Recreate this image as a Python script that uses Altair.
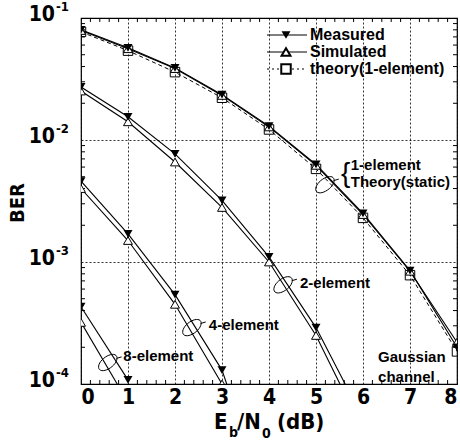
import altair as alt
import pandas as pd

# Eb/N0 grid (dB)
ebn0 = [0, 1, 2, 3, 4, 5, 6, 7, 8]

# 1-element receiver in a Gaussian channel
meas_1 = [0.080, 0.057, 0.039, 0.0235, 0.0130, 0.0063, 0.0025, 0.00085, 0.00020]
sim_1 = [0.079, 0.056, 0.0385, 0.0232, 0.0128, 0.0062, 0.00245, 0.00084, 0.00022]
theory_1 = [0.077, 0.054, 0.036, 0.0222, 0.0122, 0.0058, 0.0023, 0.00078, 0.000185]

# 2-, 4- and 8-element diversity
meas_2 = [0.0272, 0.0155, 0.0077, 0.0032, 0.0011, 0.00029]
sim_2 = [0.0252, 0.0141, 0.0066, 0.0028, 0.0010, 0.00025]
meas_4 = [0.0046, 0.0017, 0.00054, 0.00013]
sim_4 = [0.0040, 0.0015, 0.00045, 0.00010]
meas_8 = [0.00043, 0.000108]
sim_8 = [0.00032]

# Eb/N0 where a curve runs out through BER = 1e-4
tails = {"meas_2": 5.62, "sim_2": 5.51, "meas_4": 3.1, "sim_8": 0.77}

y_ticks = [1e-1, 1e-2, 1e-3, 1e-4]
y_exps = ["-1", "-2", "-3", "-4"]
x_minor = [i / 5 for i in range(1, 40) if i % 5]
y_minor = [m * 10.0 ** e for e in (-4, -3, -2) for m in range(2, 10)]

series = [
    ("meas_1", "meas", meas_1), ("sim_1", "sim", sim_1), ("theory_1", "theory", theory_1),
    ("meas_2", "meas", meas_2), ("sim_2", "sim", sim_2),
    ("meas_4", "meas", meas_4), ("sim_4", "sim", sim_4),
    ("meas_8", "meas", meas_8), ("sim_8", "sim", sim_8),
]
rows = []
for name, kind, vals in series:
    for x, b in zip(ebn0, vals):
        rows.append(dict(x=x, ber=b, curve=name, kind=kind, marker=True))
    if name in tails:
        rows.append(dict(x=tails[name], ber=1e-4, curve=name, kind=kind, marker=False))
df = pd.DataFrame(rows)

W, H = 376, 366
NARROW = "Liberation Sans Narrow, DejaVu Sans Condensed, sans-serif"
TEXT = "Liberation Sans, Arial, sans-serif"

xs = alt.Scale(domain=[0, 8], nice=False)
ys = alt.Scale(type="log", domain=[1e-4, 1e-1], nice=False)
x_axis = alt.Axis(values=ebn0, grid=True, gridColor="black", gridDash=[2, 2], gridWidth=0.8,
                  ticks=False, domain=False, title=None, labelFont=NARROW, labelFontSize=21,
                  labelFontWeight="bold", labelColor="black", labelPadding=2, format="d")
y_axis = alt.Axis(values=y_ticks, grid=True, gridColor="black", gridDash=[2, 2], gridWidth=0.8,
                  ticks=False, domain=False, labels=False, title=None)
X = alt.X("x:Q", scale=xs, axis=x_axis)
Y = alt.Y("ber:Q", scale=ys, axis=y_axis)

base = alt.Chart(df)
solid = base.mark_line(color="black", strokeWidth=1.1, clip=True).encode(
    X, Y, detail="curve:N").transform_filter("datum.kind != 'theory'")
dashed = base.mark_line(color="black", strokeWidth=1, strokeDash=[4, 3], clip=True).encode(
    X, Y, detail="curve:N").transform_filter("datum.kind == 'theory'")
pts = base.transform_filter("datum.marker")
sim_pts = pts.transform_filter("datum.kind == 'sim'").mark_point(
    shape="triangle-up", filled=True, fill="white", stroke="black", strokeWidth=1,
    size=80, opacity=1, clip=True).encode(X, Y)
theo_pts = pts.transform_filter("datum.kind == 'theory'").mark_point(
    shape="square", filled=False, stroke="black", strokeWidth=1, size=90,
    opacity=1, clip=True).encode(X, Y)
meas_pts = pts.transform_filter("datum.kind == 'meas'").mark_point(
    shape="triangle-down", filled=True, color="black", size=80, opacity=1, clip=True).encode(X, Y)

# inward minor ticks on all four sides
xm = alt.Chart(pd.DataFrame({"x": x_minor}))
ym = alt.Chart(pd.DataFrame({"ber": y_minor}))
tick_kw = dict(color="black", strokeWidth=1)
ticks = alt.layer(
    xm.mark_rule(**tick_kw).encode(x=alt.X("x:Q", scale=xs), y=alt.value(H), y2=alt.value(H - 4)),
    xm.mark_rule(**tick_kw).encode(x=alt.X("x:Q", scale=xs), y=alt.value(0), y2=alt.value(4)),
    ym.mark_rule(**tick_kw).encode(y=alt.Y("ber:Q", scale=ys), x=alt.value(0), x2=alt.value(4)),
    ym.mark_rule(**tick_kw).encode(y=alt.Y("ber:Q", scale=ys), x=alt.value(W), x2=alt.value(W - 4)),
)

# y tick labels as 10 with a raised exponent
yl = alt.Chart(pd.DataFrame({"ber": y_ticks, "exp": y_exps}))
ylab = alt.layer(
    yl.mark_text(align="right", baseline="middle", font=NARROW, fontSize=21,
                 fontWeight="bold", dy=-3, color="black").encode(
        y=alt.Y("ber:Q", scale=ys), x=alt.value(-26), text=alt.value("10")),
    yl.mark_text(align="left", baseline="middle", font=NARROW, fontSize=13,
                 fontWeight="bold", dy=-11, color="black").encode(
        y=alt.Y("ber:Q", scale=ys), x=alt.value(-25), text="exp:N"),
)

# axis titles
one = alt.Chart(pd.DataFrame({"a": [0]}))
def label(txt, x, y, size, **kw):
    return one.mark_text(font=NARROW, fontSize=size, fontWeight="bold", color="black",
                         **kw).encode(x=alt.value(x), y=alt.value(y), text=alt.value(txt))

titles = alt.layer(
    label("BER", -63, 185, 20, angle=270, align="center", baseline="middle"),
    label("E", 133, H + 45, 22, align="left", baseline="alphabetic"),
    label("b", 148, H + 53, 14, align="left", baseline="alphabetic"),
    label("/N", 156, H + 45, 22, align="left", baseline="alphabetic"),
    label("0", 181, H + 54, 14, align="left", baseline="alphabetic"),
    label("(dB)", 196, H + 45, 22, align="left", baseline="alphabetic"),
)

# legend
leg_y = [17, 34, 51]
leg_lab = ["Measured", "Simulated", "theory(1-element)"]
legend = []
for i, (yy, txt) in enumerate(zip(leg_y, leg_lab)):
    dash = [2, 3] if i == 2 else [1, 0]
    legend.append(one.mark_rule(color="black", strokeWidth=1, strokeDash=dash).encode(
        x=alt.value(186), x2=alt.value(226), y=alt.value(yy)))
    if i == 0:
        legend.append(one.mark_point(shape="triangle-down", filled=True, color="black",
                                     size=80, opacity=1).encode(x=alt.value(205), y=alt.value(yy)))
    elif i == 1:
        legend.append(one.mark_point(shape="triangle-up", filled=True, fill="white", stroke="black",
                                     size=80, opacity=1).encode(x=alt.value(205), y=alt.value(yy)))
    else:
        legend.append(one.mark_point(shape="square", filled=True, fill="white", stroke="black",
                                     size=90, opacity=1).encode(x=alt.value(205), y=alt.value(yy)))
    legend.append(one.mark_text(align="left", baseline="middle", font=TEXT, fontSize=16,
                                fontWeight="bold", color="black").encode(
        x=alt.value(229), y=alt.value(yy), text=alt.value(txt)))

# curve-group annotations: a small loop around each pair of curves and its name
LOOP = ("M0.866,-0.6 C1.004,-0.3 0.728,0.2 0.25,0.52 C-0.228,0.85 -0.728,0.89 -0.866,0.6 "
        "C-1.004,0.3 -0.728,-0.2 -0.25,-0.52 C0.228,-0.85 0.728,-0.89 0.866,-0.6 Z "
        "M0.85,-0.4 L1.35,-0.55")
loops = alt.Chart(pd.DataFrame({"x": [5.19, 4.30, 2.36, 0.57],
                                "ber": [4.3e-3, 6.5e-4, 2.9e-4, 1.5e-4]})).mark_point(
    shape=LOOP, size=420, filled=False, stroke="black", strokeWidth=1, opacity=1).encode(
    x=alt.X("x:Q", scale=xs), y=alt.Y("ber:Q", scale=ys))

notes = pd.DataFrame({
    "x": [5.74, 5.74, 4.66, 2.72, 0.90, 6.32, 6.32],
    "ber": [6.2e-3, 4.5e-3, 6.7e-4, 3.05e-4, 1.7e-4, 1.66e-4, 1.14e-4],
    "txt": ["1-element", "Theory(static)", "2-element", "4-element", "8-element",
            "Gaussian", "channel"],
})
note_text = alt.Chart(notes).mark_text(align="left", baseline="middle", font=TEXT,
                                       fontSize=15, fontWeight="bold", color="black").encode(
    x=alt.X("x:Q", scale=xs), y=alt.Y("ber:Q", scale=ys), text="txt:N")
brace = alt.Chart(pd.DataFrame({"x": [5.53], "ber": [5.3e-3]})).mark_text(
    align="left", baseline="middle", font=TEXT, fontSize=28, color="black").encode(
    x=alt.X("x:Q", scale=xs), y=alt.Y("ber:Q", scale=ys), text=alt.value("{"))

chart = alt.layer(
    solid, dashed, ticks, sim_pts, theo_pts, meas_pts, loops, note_text, brace,
    ylab, titles, *legend,
).properties(
    width=W, height=H,
    autosize=alt.AutoSizeParams(type="none"),
    padding={"left": 81, "top": 18, "right": 3, "bottom": 58},
    background="white",
).configure_view(stroke="black", strokeWidth=1.2)

chart.save("out.html", embed_options={"renderer": "svg", "actions": False})
